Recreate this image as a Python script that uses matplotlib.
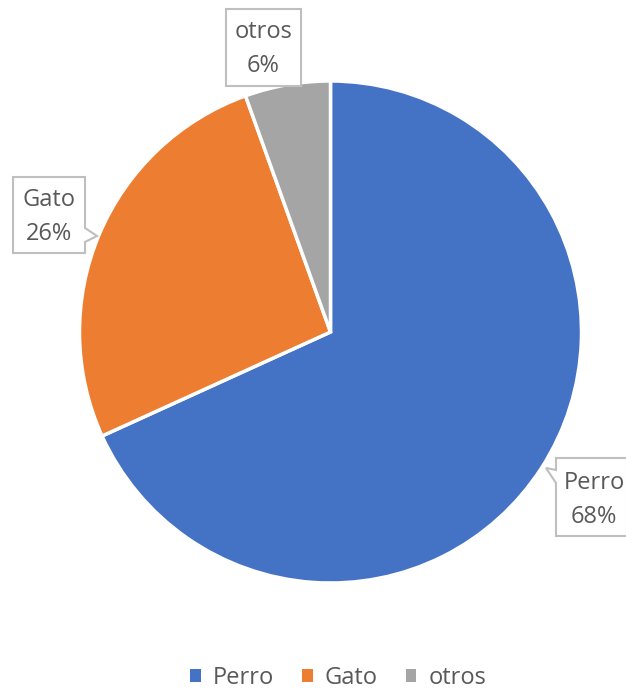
import matplotlib
matplotlib.use("Agg")
import matplotlib.pyplot as plt
from matplotlib.patches import Polygon

categories = ["Perro", "Gato", "otros"]
values = [68.2, 26.3, 5.5]
colors = ["#4472C4", "#ED7D31", "#A5A5A5"]

plt.rcParams['font.family'] = ['Open Sans', 'DejaVu Sans']

W, H = 626, 689
fig = plt.figure(figsize=(W / 100, H / 100), dpi=100)
ax = fig.add_axes([0, 0, 1, 1])

def Y(y):
    return H - y

wedges, _ = ax.pie(values, colors=colors, startangle=90, counterclock=False,
                   center=(330.5, Y(332)), radius=251,
                   wedgeprops=dict(edgecolor="white", linewidth=2.5))
ax.set_xlim(0, W)
ax.set_ylim(0, H)
ax.set_aspect("equal")
ax.axis("off")

total = sum(values)
txtc = "#595959"
boxc = "#BFBFBF"
fs = 17

# callout boxes (pixel coords)
boxes = {
    "otros": [(226, 9), (301, 9), (301, 86), (226, 86)],
    "Gato": [(13, 177), (85, 177), (85, 228), (97, 236), (85, 242), (85, 253), (13, 253)],
    "Perro": [(556, 458), (627, 458), (627, 536), (556, 536), (556, 483), (546, 468), (556, 470)],
}
centers = {"otros": 263.5, "Gato": 49, "Perro": 594}
tops = {"otros": 32, "Gato": 200, "Perro": 483}

for cat, val in zip(categories, values):
    pts = [(x, Y(y)) for x, y in boxes[cat]]
    ax.add_patch(Polygon(pts, closed=True, facecolor="white", edgecolor=boxc, linewidth=1.5, zorder=5))
    pct = f"{int(100 * val / total + 0.5)}%"
    ax.text(centers[cat], Y(tops[cat]), cat, ha="center", va="center", fontsize=fs, color=txtc, zorder=6)
    ax.text(centers[cat], Y(tops[cat] + 34), pct, ha="center", va="center", fontsize=fs, color=txtc, zorder=6)

leg = fig.legend(wedges, categories, loc="center", bbox_to_anchor=(0.54, 1 - 678 / H), ncol=3,
                 frameon=False, fontsize=fs, handlelength=0.45, handleheight=0.45,
                 handletextpad=0.5, columnspacing=1.2)
for t in leg.get_texts():
    t.set_color(txtc)
for h in leg.legend_handles:
    h.set_edgecolor("none")

fig.savefig("out.png", dpi=100)
